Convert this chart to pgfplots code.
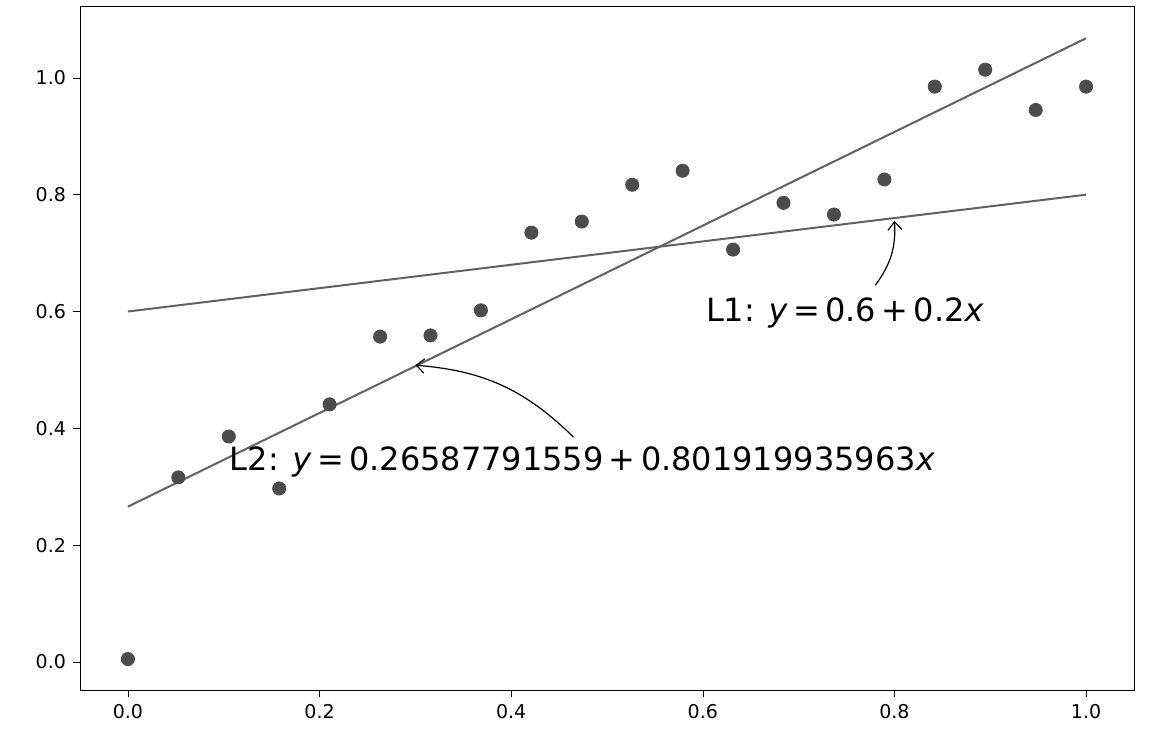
\documentclass[border=0pt]{standalone}
\usepackage{pgfplots}
\pgfplotsset{compat=1.18}
\usepackage{fontspec}
\setmainfont{DejaVu Sans}
\usetikzlibrary{arrows.meta}
\begin{document}
\begin{tikzpicture}[x=1pt,y=1pt]
\useasboundingbox (-40,-20) rectangle (546.5,345);
\begin{axis}[at={(0,0)},anchor=south west,scale only axis,width=527pt,height=342pt,
  xmin=-0.05,xmax=1.05,ymin=-0.048,ymax=1.123,
  xtick={0,0.2,...,1.0},ytick={0,0.2,...,1.0},
  xtick pos=left, ytick pos=left,
  /pgf/number format/assume math mode=true,
  xticklabel style={/pgf/number format/.cd,fixed,fixed zerofill,precision=1},
  yticklabel style={/pgf/number format/.cd,fixed,fixed zerofill,precision=1},
  scaled ticks=false,
  tick label style={font=\fontsize{9.5}{11}\selectfont},
  tick align=outside, tick style={black}, major tick length=3.5pt,
  axis line style={black}]
\addplot[only marks,mark=*,mark size=3.3pt,color=black!70,mark options={draw=black!70,fill=black!70}] coordinates {
(0.0000,0.005)(0.0526,0.316)(0.1053,0.386)(0.1579,0.297)(0.2105,0.441)
(0.2632,0.557)(0.3158,0.559)(0.3684,0.602)(0.4211,0.735)(0.4737,0.754)
(0.5263,0.817)(0.5789,0.841)(0.6316,0.706)(0.6842,0.786)(0.7368,0.766)
(0.7895,0.826)(0.8421,0.985)(0.8947,1.014)(0.9474,0.945)(1.0000,0.985)};
\addplot[color=black!62,line width=1pt] coordinates {(0,0.6)(1,0.8)};
\addplot[color=black!62,line width=1pt] coordinates {(0,0.26587791559)(1,1.067797851553)};
\node[anchor=west,font=\fontsize{16}{18}\selectfont,inner sep=0pt] at (axis cs:0.603,0.597) {L1: \textit{y}\,=\,0.6\,+\,0.2\textit{x}};
\node[anchor=west,font=\fontsize{16}{18}\selectfont,inner sep=0pt] at (axis cs:0.106,0.342) {L2: \textit{y}\,=\,0.26587791559\,+\,0.801919935963\textit{x}};
\draw[-{Straight Barb[length=4pt,width=7pt]},semithick] (axis cs:0.78,0.645) to[bend right=20] (axis cs:0.8,0.755);
\draw[-{Straight Barb[length=4pt,width=7pt]},semithick] (axis cs:0.465,0.385) to[bend right=20] (axis cs:0.3,0.508);
\end{axis}
\end{tikzpicture}
\end{document}
